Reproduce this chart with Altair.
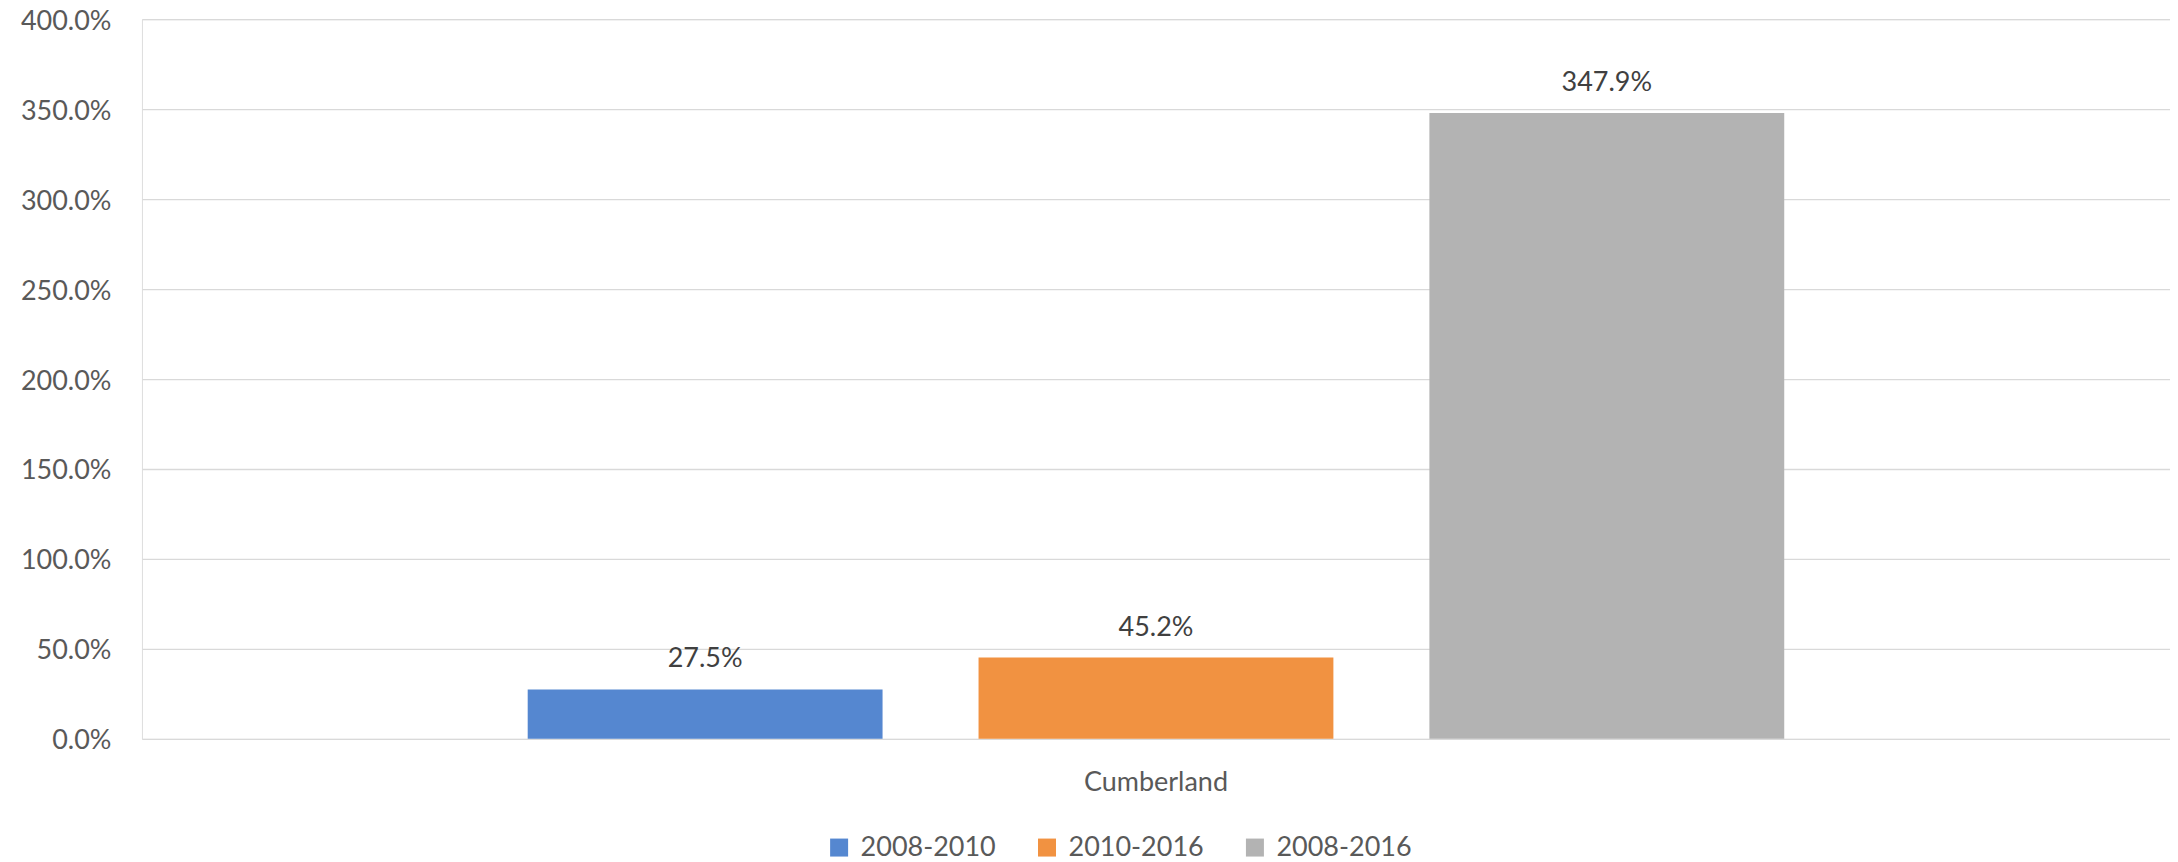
import altair as alt
import pandas as pd

region = ["Cumberland", "Cumberland", "Cumberland"]
periods = ["2008-2010", "2010-2016", "2008-2016"]
values = [27.5, 45.2, 347.9]
colors = ["#5587D0", "#F19241", "#B3B3B3"]
y_ticks = [0, 0.5, 1.0, 1.5, 2.0, 2.5, 3.0, 3.5, 4.0]

df = pd.DataFrame({
    "region": region,
    "period": periods,
    "value": [v / 100 for v in values],
})

FONT = "Lato"
GREY = "#595959"

x_enc = alt.X("region:N", title=None,
              scale=alt.Scale(paddingInner=0, paddingOuter=0.307),
              axis=alt.Axis(labelAngle=0, labelFontSize=27, labelFont=FONT,
                            labelColor=GREY, ticks=False, domain=False,
                            labelPadding=31, grid=False))
xo_enc = alt.XOffset("period:N", sort=periods,
                     scale=alt.Scale(paddingInner=0.2129, paddingOuter=0))
y_enc = alt.Y("value:Q", title=None,
              scale=alt.Scale(domain=[0, 4.0], nice=False),
              axis=alt.Axis(format=".1%", values=y_ticks, labelFontSize=27,
                            labelFont=FONT, labelColor=GREY, ticks=False,
                            tickSize=0, domain=False, labelPadding=31,
                            labelOffset=2,
                            grid=True, gridColor="#d9d9d9", gridWidth=1.3))

bars = alt.Chart(df).mark_bar().encode(
    x=x_enc,
    xOffset=xo_enc,
    y=y_enc,
    color=alt.Color("period:N", sort=periods,
                    scale=alt.Scale(domain=periods, range=colors),
                    legend=alt.Legend(title=None, orient="none", direction="horizontal",
                                      legendX=684, legendY=815,
                                      symbolType="square", symbolSize=324,
                                      symbolStrokeWidth=0, labelFontSize=27,
                                      labelFont=FONT, labelColor=GREY,
                                      labelOffset=8, columnPadding=37)),
)

labels = alt.Chart(df).mark_text(baseline="middle", dy=-30, fontSize=27,
                                 font=FONT, color="#404040").encode(
    x=alt.X("region:N"),
    xOffset=alt.XOffset("period:N", sort=periods),
    y=alt.Y("value:Q"),
    text=alt.Text("value:Q", format=".1%"),
)

chart = alt.layer(bars, labels).properties(
    width=2029, height=720,
    autosize=alt.AutoSizeParams(type="none"),
    padding={"left": 134, "top": 11, "right": 0, "bottom": 123},
).configure_view(stroke=None).configure(background="white")

chart.save("out.html", embed_options={"renderer": "svg", "actions": False})
